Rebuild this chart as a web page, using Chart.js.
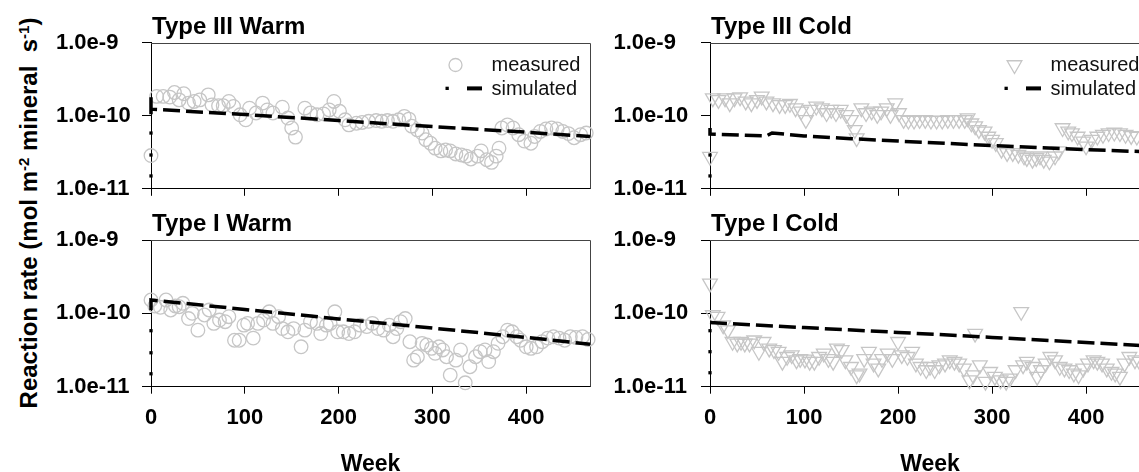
<!DOCTYPE html>
<html>
<head>
<meta charset="utf-8">
<script src="https://cdn.jsdelivr.net/npm/chart.js@4.4.1/dist/chart.umd.min.js"></script>
<style>
html,body{margin:0;padding:0;background:#fff;width:1139px;height:472px;overflow:hidden;}
canvas{position:absolute;}
#ytitle{position:absolute;left:29px;top:213px;transform:translate(-50%,-50%) rotate(-90deg);white-space:nowrap;
  font:bold 24px "Liberation Sans",Arial,sans-serif;color:#000;}
#ytitle sup{font-size:15px;line-height:0;vertical-align:0.55em;}
</style>
</head>
<body>
<div id="ytitle">Reaction rate (mol m<sup>-2</sup> mineral&nbsp; s<sup>-1</sup>)</div>
<canvas id="c1" width="600" height="205" style="left:0;top:0"></canvas>
<canvas id="c2" width="600" height="205" style="left:560px;top:0"></canvas>
<canvas id="c3" width="600" height="278" style="left:0;top:200px"></canvas>
<canvas id="c4" width="600" height="278" style="left:560px;top:200px"></canvas>
<script>
// ---------- tick labels ----------
const xTicks = [0, 100, 200, 300, 400];
const yTicks = [1e-11, 1e-10, 1e-9];
const panelTitles = ['Type III Warm', 'Type III Cold', 'Type I Warm', 'Type I Cold'];
const seriesNames = ['measured', 'simulated'];

// ---------- Type III Warm ----------
const t3wWeek = [0,6,13,20,25,30,35,40,46,52,61,65,72,77,83,88,95,101,105,112,119,124,130,140,146,150,154,164,170,177,184,190,195,201,207,211,219,225,232,240,246,252,258,264,270,275,278,284,289,293,298,303,309,314,319,325,331,336,341,348,352,358,363,368,371,374,380,386,392,398,405,409,415,421,427,433,439,445,451,458,464];
const t3wRate = [2.85e-11,1.84e-10,1.84e-10,1.80e-10,2.08e-10,1.65e-10,2.0e-10,1.49e-10,1.57e-10,1.65e-10,1.93e-10,1.41e-10,1.37e-10,1.37e-10,1.57e-10,1.34e-10,1.03e-10,8.8e-11,1.27e-10,1.09e-10,1.49e-10,1.2e-10,1.09e-10,1.31e-10,9.3e-11,6.8e-11,5.1e-11,1.27e-10,1.09e-10,1.03e-10,1.06e-10,1.2e-10,1.57e-10,1.15e-10,8.8e-11,7.5e-11,7.9e-11,8.1e-11,8.4e-11,8.6e-11,8.4e-11,8.6e-11,8.4e-11,8.8e-11,9.8e-11,9.0e-11,7.2e-11,6.4e-11,5.8e-11,4.7e-11,4.2e-11,3.6e-11,3.3e-11,3.4e-11,3.3e-11,3.0e-11,2.9e-11,2.8e-11,2.56e-11,2.8e-11,3.3e-11,2.5e-11,2.3e-11,2.8e-11,3.6e-11,6.8e-11,7.5e-11,6.8e-11,5.5e-11,4.5e-11,4.2e-11,5.2e-11,6.1e-11,6.6e-11,6.8e-11,6.6e-11,6.1e-11,5.7e-11,5.0e-11,5.5e-11,5.8e-11];
const t3wSimWeek = [0,0,0,100,200,300,400,468];
const t3wSimRate = [1.05e-10,1.94e-10,1.23e-10,1.04e-10,8.6e-11,7.1e-11,5.95e-11,5.2e-11];
const t3wSimStart = [1.5e-11,2.9e-11,5.8e-11];

// ---------- Type III Cold ----------
const t3cWeek = [0,3,9,16,21,26,32,38,44,50,55,60,67,74,80,85,91,97,102,107,113,119,124,129,134,139,145,150,154,156,161,166,172,178,182,188,192,197,201,206,211,217,223,229,235,241,247,253,259,265,271,274,278,282,286,292,296,300,304,310,316,322,328,334,337,343,347,351,355,361,367,371,375,381,385,391,397,400,406,412,418,424,430,436,442,448,454];
const t3cRate = [2.75e-11,1.74e-10,1.65e-10,1.74e-10,1.49e-10,1.74e-10,1.80e-10,1.57e-10,1.49e-10,1.65e-10,1.84e-10,1.57e-10,1.49e-10,1.41e-10,1.41e-10,1.46e-10,1.27e-10,1.15e-10,8.8e-11,1.21e-10,1.34e-10,1.27e-10,1.09e-10,1.21e-10,1.09e-10,1.21e-10,1.03e-10,8.8e-11,6.4e-11,4.95e-11,1.27e-10,1.09e-10,1.15e-10,1.03e-10,1.15e-10,1.27e-10,1.03e-10,1.49e-10,1.09e-10,8.8e-11,8.6e-11,8.6e-11,8.8e-11,8.8e-11,8.6e-11,8.6e-11,8.6e-11,8.8e-11,8.8e-11,8.8e-11,8.8e-11,9.3e-11,7.9e-11,7.2e-11,6.4e-11,6.1e-11,5.2e-11,4.7e-11,4.24e-11,3.44e-11,3.1e-11,3.1e-11,2.94e-11,2.79e-11,2.65e-11,2.51e-11,2.65e-11,2.79e-11,2.51e-11,2.38e-11,2.79e-11,3.27e-11,6.8e-11,6.1e-11,5.8e-11,5.2e-11,4.47e-11,3.82e-11,4.7e-11,5.2e-11,5.5e-11,5.8e-11,5.9e-11,5.8e-11,5.5e-11,5.3e-11,5.2e-11];
const t3cSimWeek = [0,0,0,30,60,66,100,150,200,250,300,350,400,468];
const t3cSimRate = [5.8e-11,6.8e-11,5.6e-11,5.45e-11,5.3e-11,5.8e-11,5.3e-11,4.85e-11,4.5e-11,4.2e-11,3.9e-11,3.65e-11,3.44e-11,3.2e-11];
const t3cSimStart = [1.5e-11,2.9e-11];

// ---------- Type I Warm ----------
const t1wWeek = [0,4,10,16,21,26,30,34,40,44,50,57,62,67,73,79,83,89,94,99,103,109,114,120,126,130,136,140,146,152,160,164,170,177,181,187,191,196,199,205,211,217,223,230,236,242,248,254,258,262,266,271,276,280,284,289,294,299,303,307,311,315,319,325,330,335,340,346,351,356,360,365,370,375,380,385,390,394,400,405,411,417,423,429,435,441,447,453,460,466];
const t1wRate = [1.52e-10,1.26e-10,1.21e-10,1.52e-10,1.11e-10,1.26e-10,1.23e-10,1.37e-10,8.5e-11,1.0e-10,5.9e-11,9.5e-11,1.11e-10,7.3e-11,8.1e-11,7.7e-11,9.0e-11,4.3e-11,4.3e-11,6.9e-11,7.3e-11,4.6e-11,7.3e-11,8.1e-11,1.05e-10,7.3e-11,9.0e-11,6.2e-11,5.6e-11,6.2e-11,3.5e-11,5.9e-11,7.7e-11,7.3e-11,5.3e-11,6.9e-11,7.3e-11,1.05e-10,5.6e-11,5.6e-11,5.3e-11,5.6e-11,6.9e-11,6.6e-11,7.3e-11,6.2e-11,5.9e-11,6.9e-11,4.8e-11,6.2e-11,7.7e-11,8.5e-11,4.1e-11,2.3e-11,2.56e-11,3.9e-11,3.7e-11,3.33e-11,2.85e-11,3.5e-11,3.17e-11,2.56e-11,1.44e-11,2.3e-11,3.17e-11,1.13e-11,1.87e-11,2.56e-11,3.0e-11,3.17e-11,2.2e-11,3.0e-11,3.9e-11,4.8e-11,5.9e-11,5.6e-11,4.8e-11,4.3e-11,3.5e-11,3.33e-11,3.5e-11,4.1e-11,4.6e-11,4.8e-11,4.6e-11,4.3e-11,4.8e-11,4.7e-11,4.8e-11,4.4e-11];
const t1wSimWeek = [0,0,0,100,200,300,400,468];
const t1wSimRate = [1.1e-10,1.52e-10,1.52e-10,1.13e-10,8.4e-11,6.3e-11,4.7e-11,3.8e-11];
const t1wSimStart = [1.5e-11,2.9e-11,5.8e-11];

// ---------- Type I Cold ----------
const t1cWeek = [0,3,8,14,19,24,29,33,37,42,47,52,57,63,68,73,77,82,87,92,96,101,106,111,116,121,126,131,135,140,144,150,156,159,164,169,174,179,183,189,194,200,204,210,215,219,224,230,234,239,244,250,255,260,265,270,276,280,282,287,293,298,303,309,315,319,325,331,333,337,343,348,352,357,362,367,372,377,382,387,392,397,402,408,412,417,422,427,431,436,441,446,452,457];
const t1cRate = [2.56e-10,9.5e-11,9.0e-11,6.9e-11,5.9e-11,4.1e-11,3.9e-11,4.1e-11,3.9e-11,3.9e-11,4.3e-11,3.0e-11,4.1e-11,3.33e-11,3.17e-11,3.0e-11,2.2e-11,2.56e-11,2.7e-11,2.3e-11,2.4e-11,2.36e-11,2.2e-11,2.2e-11,2.56e-11,2.85e-11,2.4e-11,2.2e-11,3.33e-11,3.17e-11,2.3e-11,1.87e-11,1.44e-11,1.52e-11,2.4e-11,3.0e-11,2.08e-11,1.78e-11,2.4e-11,2.85e-11,2.4e-11,4.1e-11,2.7e-11,2.56e-11,3.0e-11,2.08e-11,1.87e-11,1.69e-11,1.87e-11,1.69e-11,1.97e-11,2.08e-11,2.3e-11,2.2e-11,2.08e-11,1.78e-11,1.23e-11,1.44e-11,5.3e-11,1.97e-11,1.17e-11,1.6e-11,1.37e-11,1.23e-11,1.17e-11,1.3e-11,1.69e-11,1.05e-10,1.97e-11,2.2e-11,1.87e-11,1.37e-11,1.69e-11,2.08e-11,2.56e-11,2.3e-11,1.87e-11,1.78e-11,1.69e-11,1.52e-11,1.44e-11,1.78e-11,2.08e-11,2.3e-11,2.2e-11,2.08e-11,1.78e-11,1.6e-11,1.52e-11,1.37e-11,2.08e-11,2.56e-11,2.3e-11,2.2e-11];
const t1cSimWeek = [0,100,200,300,400,468];
const t1cSimRate = [7.5e-11,6.4e-11,5.5e-11,4.7e-11,4.0e-11,3.6e-11];
const t1cSimStart = [1.55e-11,3.0e-11,5.8e-11];

// ---------- styling ----------
const FONT = '"Liberation Sans", Arial, sans-serif';
const GRAY = '#c6c6c6';
const X_MAX = 468;

function pts(w, r) { return w.map((x, i) => ({x: x, y: r[i]})); }

function drawMarker(ctx, kind, x, y) {
  ctx.beginPath();
  if (kind === 'circle') {
    ctx.arc(x, y, 6.5, 0, Math.PI * 2);
  } else {
    const r = 8.5;
    ctx.moveTo(x - r * 0.866, y - r * 0.5);
    ctx.lineTo(x + r * 0.866, y - r * 0.5);
    ctx.lineTo(x, y + r);
    ctx.closePath();
  }
  ctx.strokeStyle = GRAY; ctx.lineWidth = 1.3; ctx.stroke();
}

const decor = {
  id: 'decor',
  beforeDatasetsDraw(chart, args, o) {
    const {ctx, chartArea: a} = chart;
    ctx.save();
    ctx.strokeStyle = '#444'; ctx.lineWidth = 1;
    ctx.beginPath();
    ctx.moveTo(a.left, Math.round(a.top) + 0.5);
    ctx.lineTo(Math.round(a.right) + 0.5, Math.round(a.top) + 0.5);
    ctx.lineTo(Math.round(a.right) + 0.5, a.bottom);
    ctx.stroke();
    ctx.restore();
  },
  afterDatasetsDraw(chart, args, o) {
    const {ctx, chartArea: a} = chart;
    ctx.save();
    ctx.fillStyle = '#000';
    ctx.font = 'bold 24px ' + FONT;
    ctx.textBaseline = 'alphabetic';
    ctx.fillText(o.title, a.left + 1, a.top - 9);
    if (o.legend) {
      const ds = chart.data.datasets;
      drawMarker(ctx, o.marker, a.left + 304.5, a.top + 22.3);
      ctx.fillStyle = '#000';
      ctx.fillRect(a.left + 294.5, a.top + 44, 3.3, 3.3);
      ctx.fillRect(a.left + 316, a.top + 43.7, 15, 4);
      ctx.font = '20px ' + FONT;
      ctx.fillStyle = '#111';
      ctx.fillText(ds[2].label, a.left + 340.5, a.top + 28.7);
      ctx.fillText(ds[0].label, a.left + 340.5, a.top + 52.5);
    }
    ctx.restore();
  }
};

function makeChart(id, cfg) {
  const bottom = cfg.bottom;
  const canvasH = bottom ? 278 : 205;
  const areaBottom = bottom ? 186.7 : 189.3;
  const areaTop = bottom ? 40 : 42.7;
  const padBottom = bottom ? 0 : 5;
  const xH = canvasH - padBottom - areaBottom;
  return new Chart(document.getElementById(id), {
    type: 'scatter',
    data: {
      datasets: [
        {label: seriesNames[1], data: pts(cfg.simW, cfg.simR), showLine: true, borderColor: '#000',
         borderWidth: 3.5, borderDash: [17, 6], pointRadius: 0, order: 0, clip: false},
        {label: seriesNames[1] + ' start', data: cfg.simStart.map(v => ({x: 0, y: v})), showLine: false,
         pointStyle: 'rect', pointRadius: 2.3, backgroundColor: '#000', borderWidth: 0, order: 1, clip: false},
        {label: seriesNames[0], data: pts(cfg.w, cfg.r), showLine: false, pointStyle: cfg.marker,
         rotation: cfg.marker === 'triangle' ? 180 : 0,
         pointRadius: cfg.marker === 'triangle' ? 8.5 : 6.8, borderColor: GRAY, borderWidth: 1.3,
         backgroundColor: 'rgba(0,0,0,0)', order: 2, clip: false}
      ]
    },
    options: {
      responsive: false, animation: false, devicePixelRatio: 1,
      layout: {padding: {left: cfg.padLeft, right: 10, top: areaTop, bottom: padBottom}},
      plugins: {
        legend: {display: false}, tooltip: {enabled: false},
        decor: {title: cfg.title, legend: !bottom, marker: cfg.marker}
      },
      scales: {
        x: {
          type: 'linear', min: 0, max: X_MAX,
          afterBuildTicks: s => { s.ticks = xTicks.map(v => ({value: v})); },
          afterFit: s => { s.height = xH; },
          ticks: {display: bottom, padding: 11, color: '#000', font: {family: FONT, size: 22, weight: 'bold'}},
          grid: {drawOnChartArea: false, drawTicks: true, tickLength: 7, color: '#000'},
          border: {display: true, color: '#000', width: 1},
          title: {display: bottom, text: 'Week', color: '#000', padding: 0,
                  font: {family: FONT, size: 23, weight: 'bold'}}
        },
        y: {
          type: 'logarithmic', min: 1e-11, max: 1e-9,
          afterBuildTicks: s => { s.ticks = yTicks.map(v => ({value: v})); },
          afterFit: s => { s.width = cfg.yW; },
          ticks: {callback: v => Number(v).toExponential(1), crossAlign: 'far', color: '#000',
                  font: {family: FONT, size: 22, weight: 'bold'}},
          grid: {drawOnChartArea: false, drawTicks: true, tickLength: 9, color: '#000'},
          border: {display: true, color: '#000', width: 1}
        }
      }
    },
    plugins: [decor]
  });
}

makeChart('c1', {title: panelTitles[0], bottom: false, marker: 'circle', padLeft: 56, yW: 95,
  w: t3wWeek, r: t3wRate, simW: t3wSimWeek, simR: t3wSimRate, simStart: t3wSimStart});
makeChart('c2', {title: panelTitles[1], bottom: false, marker: 'triangle', padLeft: 53.5, yW: 96.5,
  w: t3cWeek, r: t3cRate, simW: t3cSimWeek, simR: t3cSimRate, simStart: t3cSimStart});
makeChart('c3', {title: panelTitles[2], bottom: true, marker: 'circle', padLeft: 56, yW: 95,
  w: t1wWeek, r: t1wRate, simW: t1wSimWeek, simR: t1wSimRate, simStart: t1wSimStart});
makeChart('c4', {title: panelTitles[3], bottom: true, marker: 'triangle', padLeft: 53.5, yW: 96.5,
  w: t1cWeek, r: t1cRate, simW: t1cSimWeek, simR: t1cSimRate, simStart: t1cSimStart});
</script>
</body>
</html>
